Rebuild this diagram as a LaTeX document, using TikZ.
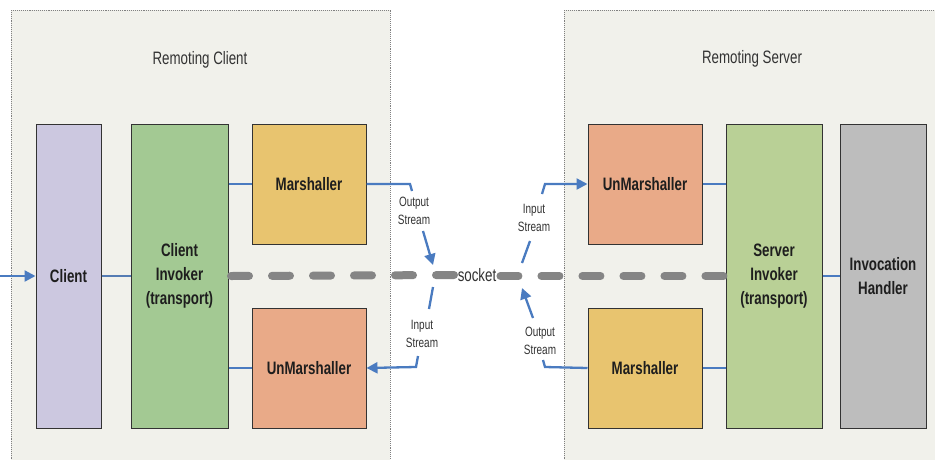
\documentclass[tikz,border=0pt]{standalone}
\usepackage{fontspec}
\setmainfont[FakeStretch=0.74]{Liberation Sans}
\usetikzlibrary{arrows.meta,calc}
\definecolor{panelbg}{HTML}{F1F1EB}
\definecolor{panelline}{HTML}{808080}
\definecolor{clientc}{HTML}{CCC8E0}
\definecolor{cinvc}{HTML}{A3C993}
\definecolor{marshc}{HTML}{E8C46F}
\definecolor{unmc}{HTML}{E9AA88}
\definecolor{sinvc}{HTML}{B9D096}
\definecolor{handc}{HTML}{BDBDBD}
\definecolor{arrowc}{HTML}{4A7BC0}
\definecolor{sockc}{HTML}{858585}
\definecolor{txtc}{HTML}{1E1E1E}
\tikzset{
  panel/.style={fill=panelbg, draw=panelline, densely dotted, line width=0.9pt},
  comp/.style={draw=black!80, line width=1pt, inner sep=0pt, text=txtc,
    font=\fontsize{18}{24}\selectfont\bfseries, align=center},
  title/.style={font=\fontsize{18}{20}\selectfont, text=black!80},
  small/.style={font=\fontsize{13.5}{18}\selectfont, text=black!80, align=center, inner sep=0pt},
  conn/.style={draw=arrowc, line width=2.3pt},
  arr/.style={conn, -{Triangle[length=11pt,width=11pt]}},
  sock/.style={draw=sockc, line width=8pt, line cap=round, dash pattern=on 18pt off 23pt}
}
\begin{document}
\begin{tikzpicture}[x=1pt,y=-1pt]
\useasboundingbox (0,0) rectangle (935,459);
\clip (0,0) rectangle (935,459);
\fill[white] (0,0) rectangle (935,459);
% panels
\draw[panel] (11,10) rectangle (390,480);
\draw[panel] (564,10) rectangle (960,480);
\node[title] (tclient) at (200,60) {Remoting Client};
\node[title] (tserver) at (752,59) {Remoting Server};
% components
\node[comp, fill=clientc, minimum width=65pt, minimum height=304pt] (client) at (68.5,276) {Client};
\node[comp, fill=cinvc, minimum width=97pt, minimum height=304pt] (cinv) at (179.5,276) {Client\\Invoker\\(transport)};
\node[comp, fill=marshc, minimum width=114pt, minimum height=120pt] (cmarsh) at (309,184) {Marshaller};
\node[comp, fill=unmc, minimum width=114pt, minimum height=120pt] (cunm) at (309,368) {UnMarshaller};
\node[comp, fill=unmc, minimum width=114pt, minimum height=120pt] (sunm) at (645,184) {UnMarshaller};
\node[comp, fill=marshc, minimum width=114pt, minimum height=120pt] (smarsh) at (645,368) {Marshaller};
\node[comp, fill=sinvc, minimum width=96pt, minimum height=304pt] (sinv) at (774,276) {Server\\Invoker\\(transport)};
\node[comp, fill=handc, minimum width=86pt, minimum height=304pt] (hand) at (883,276) {Invocation\\Handler};
% socket
\node[font=\fontsize{18}{20}\selectfont, text=black!80, inner sep=0pt] (socket) at (477,275) {socket};
\draw[sock] (231,276) -- (socket.west);
\draw[sock] ([xshift=4pt]socket.east |- 0,276) -- (sinv.west |- 0,276);
% plain links
\coordinate (in) at (0,276);
\draw[arr] (in) -- (client.west);
\draw[conn, draw=arrowc!80!gray] (client.east) -- (cinv.west);
\draw[conn] (cinv.east |- cmarsh.west) -- (cmarsh.west);
\draw[conn] (cinv.east |- cunm.west) -- (cunm.west);
\draw[conn] (sinv.west |- sunm.east) -- (sunm.east);
\draw[conn] (sinv.west |- smarsh.east) -- (smarsh.east);
\draw[conn] (sinv.east) -- (hand.west);
% client output stream
\node[small] (cos) at (414,211) {Output\\Stream};
\coordinate (cosend) at (433,265);
\draw[conn] (cmarsh.east) -- (410,184) -- (412,191);
\draw[arr] (423,231) -- (cosend);
% client input stream
\node[small] (cis) at (422,334) {Input\\Stream};
\draw[conn] (433,287) -- (429,309);
\draw[arr] (418,356) -- (416,367) -- (cunm.east);
% server input stream
\node[small] (sis) at (534,218) {Input\\Stream};
\draw[conn] (522,263) -- (530,241);
\draw[arr] (542,194) -- (545,184) -- (sunm.west);
% server output stream
\node[small] (sos) at (540,341) {Output\\Stream};
\coordinate (sosend) at (522,288);
\draw[arr] (533,318) -- (sosend);
\draw[conn] (543,360) -- (545,367) -- (smarsh.west);
\end{tikzpicture}
\end{document}
